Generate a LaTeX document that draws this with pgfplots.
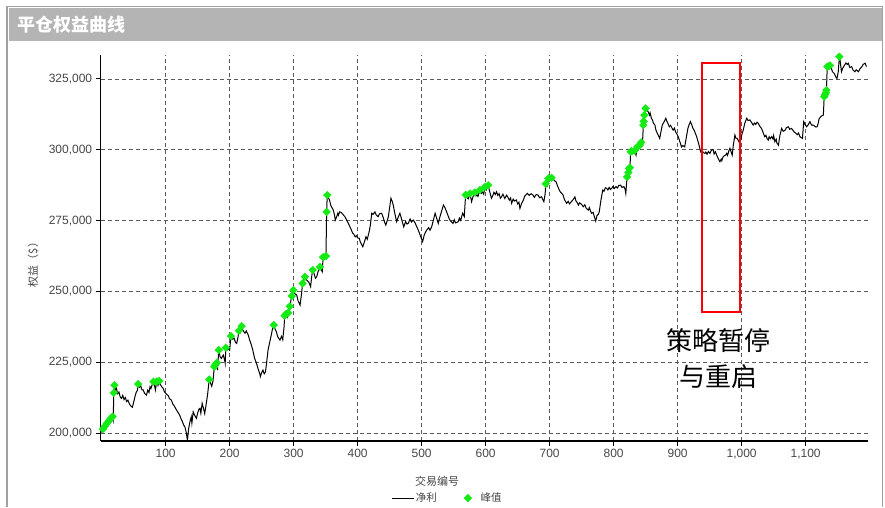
\documentclass[border=0pt]{standalone}
\usepackage{pgfplots}
\pgfplotsset{compat=1.18}
\usepackage{pgfplotstable}
\usepackage{fontspec}
\setmainfont{Liberation Sans}
\newfontfamily\cjk{Noto Sans CJK SC}

\definecolor{barg}{RGB}{180,180,180}
\definecolor{frameg}{RGB}{160,160,160}
\definecolor{gridg}{RGB}{90,90,90}
\definecolor{txtg}{RGB}{70,70,70}
\definecolor{peakg}{RGB}{20,235,20}

% net equity curve
\pgfplotstableread{
x y
0 200300
2 201500
3 201000
5 202500
6 201800
8 203500
9 202900
11 204300
12 203600
14 205200
15 204400
17 205900
18 204800
19 214300
20 217000
21 215200
23 215900
25 214000
27 214600
29 212800
31 212300
33 213400
35 211900
37 212600
39 211200
41 211700
43 210600
45 209800
48 209200
50 211000
52 212900
54 214500
56 215200
57 217400
59 216200
61 216800
63 215300
65 215300
67 214100
70 213500
72 215200
74 214400
75.5 216400
77 215800
79 217200
81 218200
83 216500
84 215300
86 218300
88 216900
90 218500
92 217100
94 216400
96 215900
98 214700
101 213900
104 213300
106 212200
109 211700
111 210400
113 209800
116 208600
119 207500
122 206400
124 205100
126 204300
128 203000
130 202300
132 200500
134 197600
136 201800
138 204100
140 205800
141 203600
143 207600
145 206500
148 205300
150 207200
152 208500
153.6 208800
155 207100
157 210600
159 208900
161 207000
163 209800
165 212900
166 214600
168 219000
170 217800
172 216600
174 218500
176 223500
178 224300
180 224900
181 222300
183 229400
185 227000
187 226400
190 227600
192 225900
193 224700
194 230200
196 229400
198 229800
200 229300
202 234300
204 233200
207 233500
209 232100
211 231700
213 233900
214.5 236200
216 235400
218.7 237800
220 236600
222 235900
224 235300
226 236100
229 234700
231 233100
234 231100
236 229500
239 226400
241 225300
243 223900
245 222300
247 221100
248 220000
250 221400
252 222300
254 221000
256 221700
258 225400
260 229400
262 231500
264 233600
265.6 235300
267 236900
269 238200
271 236700
273 235800
275 234100
277 233400
278.6 232900
281 234200
283 233000
284 235300
285 237500
286 241500
288 242100
290 241000
291.5 242500
294 244800
297 248400
299.5 250500
302 249200
304.7 248800
307 246700
310 245200
312 248600
314 252900
317.6 255200
320 254100
323 253500
325 252600
326.5 251700
328 255000
329.7 257600
332 256300
334 254700
336 255200
338 256900
341 258700
343 257900
344.7 257000
346 262100
348 261500
350.5 262500
351.5 278100
352.5 284000
354 283100
356 282300
358 280400
360 279500
362 278700
364 276800
365 275200
367 276200
369 277600
370 276900
372 278100
374 277900
376 277500
378 276900
380 276400
382 275600
384 274700
386 273800
388 272800
390 271800
392 270700
394 270200
396 269300
398 269700
400 268900
402.5 268800
404 267600
406 266700
408 265800
410 267100
413 269300
415 268400
418 271100
420 273600
422 277600
424 277200
427 278100
429 277000
432 276400
434 277400
437.5 277600
440 276100
442 274500
444 273400
446 274900
448 276400
450 279600
452 282900
454 281800
455.6 280500
458 277600
461 274600
463 276000
466 277600
468 276100
470 274400
472 272800
475 274700
477 273800
479 274000
482 275600
484 274500
487 275200
490 274100
492 273000
494.7 271700
497 270300
499 269100
501.5 267600
504 269900
506 270900
508 271700
511 272500
513 271600
515.6 272800
518 274900
521 277600
523 276200
526 274000
528 275900
531 278200
534 280500
536 279800
539 278100
541 276900
544 275200
546 274700
549 274000
551 275300
553 274200
557 274600
559 275900
561 275100
564 277600
566.6 276400
568.7 284100
571 283000
573 282700
575.5 284600
578 281700
580 283300
583 284900
585 283800
586 284200
588 283500
591 285800
593 284600
595 285100
597 284300
598.9 286900
601 285900
604 287500
606 285500
609 282900
611 283700
613 285000
615 284200
617 285200
619 283900
621 284500
623 282900
625 283400
627 284300
630 282800
632.8 284000
635 283100
637 282200
639 283000
640.6 281100
643 282600
645 281900
648 282300
650 280900
652 281500
653.6 279300
656 281000
659 282300
661 283600
663 284100
665 284600
668 283900
671 284500
674 284000
676 283200
679 284200
682 284000
684 283100
687.5 283400
689 282500
691 281700
693 284500
694 288000
696 287200
698 289900
700 289200
703 290100
706 289500
708 289000
710 288700
712 287400
715 285800
717 285000
719 284600
721 284000
723 282500
725 281700
726.6 281100
729 281800
731 280900
734 281700
737 282500
739.5 283400
741 282000
743 281400
745 280500
747 281300
750 280700
752.5 279900
755 280600
757 279400
760.5 278700
762 279600
764 278300
765.6 277600
768 277900
770 276300
772 274900
774 276800
776 277200
777.5 278100
780 282000
783 285800
785 285400
787 286600
789 286400
791 285800
793 286700
795 286000
797 286400
799 287100
801 286300
803.6 287000
806 286500
808 287400
811 287500
813 286700
816 287000
818 286000
819 284600
821 290400
823 292000
824 293400
825.5 293700
826.6 299300
828 299500
830 298600
831.7 299000
833 299700
835 298100
837 301000
839 300200
841 301600
843 302600
845 301900
846.4 308700
847 310000
848 312200
850 314600
852 314000
854 313400
856 312200
857 313000
859 311100
861 310300
862 309400
864.5 308700
866 307000
868 305900
869.6 305200
872 304000
874 306400
876 308700
879 309900
881.6 311100
883 310100
885 309200
887 308100
889 308600
891 307700
893 306900
895 307600
897 306200
899 305500
901 304600
903 303100
904 302500
906 301000
908 301500
911 301000
913 303600
916 307500
918 308900
920 309900
922 308800
924 307500
926 306800
928 305600
929.7 304600
931 303600
933 302000
935 300200
936 299300
938 299900
940 299000
942.7 298700
944 299200
946 298400
948 299400
950.5 298700
952 299500
954 300100
955.6 299900
957 298500
959 299300
961 298100
963 297100
966 295800
968 296700
969 296100
971 297500
973 297900
975 298100
976.6 298700
978 298000
980 299600
981.7 300500
983 299600
985.3 298100
987 301600
989.5 305200
991 304100
993 304000
995 303200
997 302300
999 303800
1000 305100
1002.5 306900
1005 309400
1008 311100
1010 310300
1013 310500
1015 309800
1018 308700
1020 309400
1022 308900
1024 309700
1026 309300
1028 308400
1031 307500
1033 306400
1036 304600
1038 305100
1040 303800
1041.6 303400
1043 304600
1045 303900
1047 304600
1049 303800
1050 305000
1052 302800
1054 303700
1055 302400
1057.5 301600
1059 303900
1060 305200
1062.5 307500
1065 306500
1068 306900
1070 307800
1073 308100
1075 307200
1078 307500
1080 306900
1082 306300
1085 305800
1087 305300
1089 305900
1091 304600
1093 304300
1095 304000
1097 309900
1099 308900
1101.6 308100
1104 308800
1106.7 309900
1108 309200
1110 308600
1112 308700
1114 308300
1116 308000
1118 308100
1120 309600
1121 310900
1123.4 311600
1125 311900
1127.7 312200
1129 318700
1130 319300
1131.7 320100
1132.5 321000
1133.8 329300
1136 329500
1138 329700
1140 328800
1142 327500
1145 326800
1147 325700
1149 325100
1151 327500
1152.7 332800
1154 331200
1156 327500
1158 328800
1161 329900
1163 330600
1165 330100
1166.6 330500
1169 329000
1172 329300
1174 328100
1177 327500
1179 328200
1182.5 327500
1185 328600
1188 329300
1190 330100
1193 330500
1195 329300
}\netdata

% new equity highs
\pgfplotstableread{
x y
2 201500
5 202500
8 203500
11 204300
14 205200
17 205900
19 214300
20 217000
57 217400
81 218200
86 218300
90 218500
168 219000
176 223500
178 224300
180 224900
183 229400
194 230200
202 234300
214.5 236200
218.7 237800
269 238200
286 241500
288 242100
291.5 242500
294 244800
297 248400
299.5 250500
314 252900
317.6 255200
329.7 257600
341 258700
346 262100
350.5 262500
351.5 278100
352.5 284000
568.7 284100
575.5 284600
583 284900
591 285800
598.9 286900
604 287500
694 288000
698 289900
703 290100
821 290400
823 292000
824 293400
825.5 293700
826.6 299300
828 299500
833 299700
837 301000
841 301600
843 302600
846.4 308700
847 310000
848 312200
850 314600
1129 318700
1130 319300
1131.7 320100
1132.5 321000
1133.8 329300
1136 329500
1138 329700
1152.7 332800
}\peakdata

\begin{document}
\begin{tikzpicture}
\path[use as bounding box] (0pt,0pt) rectangle (885pt,507pt);
% panel frame and title bar
\fill[barg] (8.5pt,465.5pt) rectangle (881.5pt,498.5pt);
\draw[frameg, line width=1.2pt] (7pt,0pt) -- (7pt,500.5pt) -- (882.5pt,500.5pt) -- (882.5pt,0pt);
\node[anchor=west, text=white, font=\cjk\bfseries\fontsize{18}{20}\selectfont] at (14pt,482pt) {平仓权益曲线};

\begin{axis}[
  at={(100.7pt,66pt)}, anchor=south west,
  scale only axis, width=767pt, height=386pt,
  xmin=-1.5, xmax=1197, ymin=197300, ymax=333400,
  axis x line*=bottom, axis y line*=left,
  axis line style={-, black, line width=1.3pt},
  scaled x ticks=false, scaled y ticks=false,
  xtick={100,200,...,1100},
  xticklabels={100,200,300,400,500,600,700,800,900,{1,000},{1,100}},
  ytick={200000,225000,...,325000},
  yticklabels={{200,000},{225,000},{250,000},{275,000},{300,000},{325,000}},
  tick align=outside, major tick length=5pt,
  tick style={black, line width=0.8pt},
  grid=major,
  grid style={gridg, line width=0.6pt, dash pattern=on 4pt off 3pt},
  ticklabel style={font=\fontsize{12}{14}\selectfont, text=txtg},
  legend style={draw=none, fill=none, at={(axis description cs:0.452,-0.148)},
    anchor=center, legend columns=2, text=txtg,
    font=\cjk\fontsize{10.5}{12}\selectfont},
]
\addplot[black, line width=1pt, mark=none,
  legend image code/.code={\draw[black, line width=0.9pt] (0pt,0pt) -- (22pt,0pt);}]
  table[x=x, y=y] {\netdata};
\addlegendentry{净利\rule{25pt}{0pt}}
\addplot[only marks, mark=diamond*, mark size=3.8pt,
  mark options={fill=peakg, draw=peakg, xscale=1.35}]
  table[x=x, y=y] {\peakdata};
\addlegendentry{\rule{7pt}{0pt}峰值}

% pause / restart marker
\draw[red, line width=2pt] (axis cs:937.5,242900) rectangle (axis cs:997,330700);
\node[font=\cjk\fontsize{26}{28}\selectfont] at (axis cs:963.8,232650) {策略暂停};
\node[font=\cjk\fontsize{26}{28}\selectfont] at (axis cs:963.8,220030) {与重启};
\end{axis}

\node[rotate=90, text=txtg, font=\cjk\fontsize{11}{13}\selectfont] at (33pt,245pt) {权益（\$）};
\node[text=txtg, font=\cjk\fontsize{11}{13}\selectfont] at (437pt,26pt) {交易编号};
\end{tikzpicture}
\end{document}
